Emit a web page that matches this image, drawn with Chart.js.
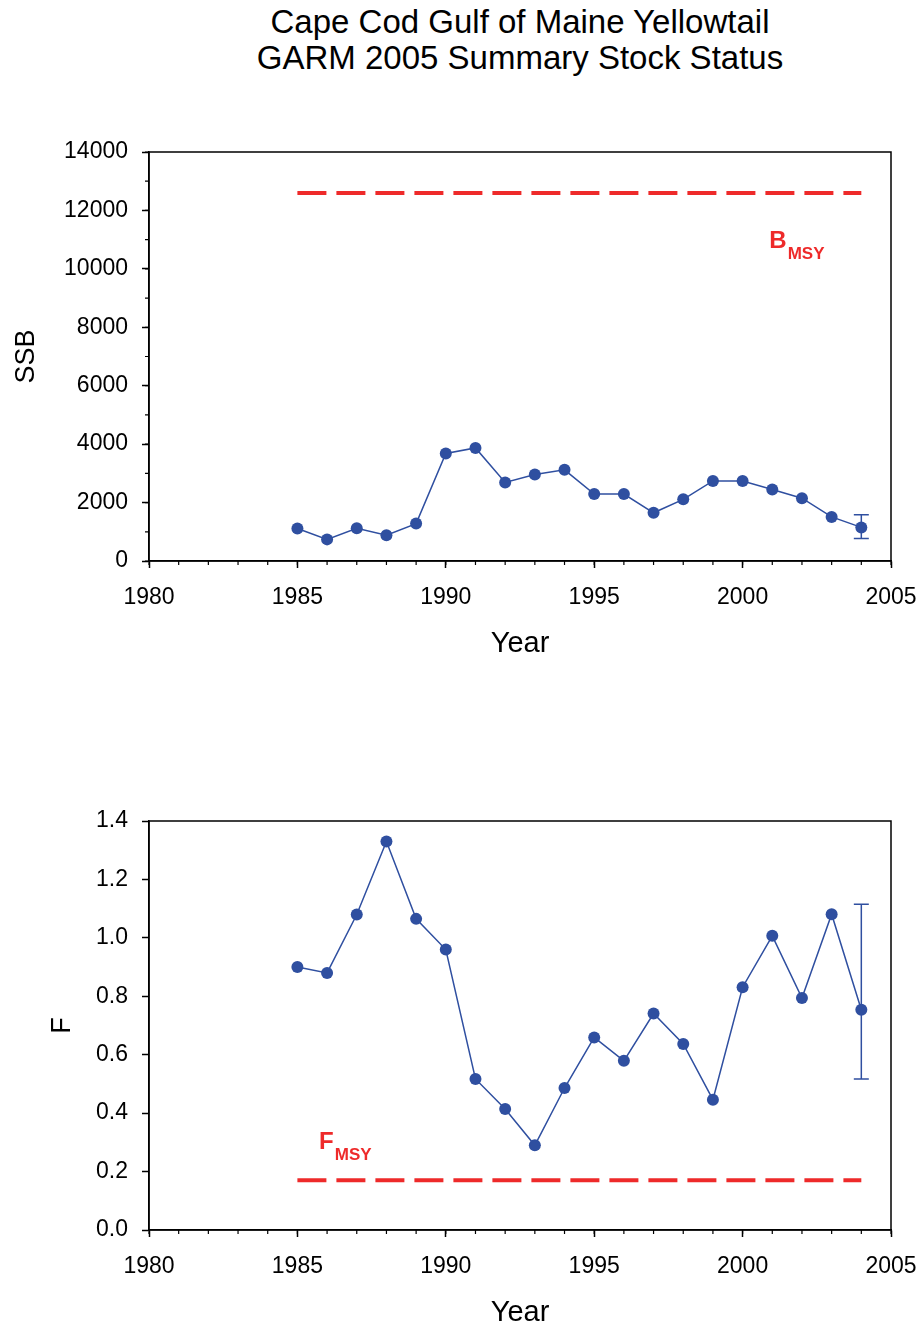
<!DOCTYPE html>
<html>
<head>
<meta charset="utf-8">
<script src="https://cdn.jsdelivr.net/npm/chart.js@4.4.0/dist/chart.umd.min.js"></script>
<style>
body { margin: 0; background: #fff; width: 921px; height: 1328px; position: relative; overflow: hidden; font-family: "Liberation Sans", Arial, sans-serif; }
#title { position: absolute; left: 120px; top: 4px; width: 800px; text-align: center; font-size: 33px; line-height: 36px; color: #000; }
#ssbChart { position: absolute; left: 0; top: 100px; }
#fChart { position: absolute; left: 0; top: 770px; }
</style>
</head>
<body>
<div id="title">Cape Cod Gulf of Maine Yellowtail<br>GARM 2005 Summary Stock Status</div>
<canvas id="ssbChart" width="921" height="580"></canvas>
<canvas id="fChart" width="921" height="558"></canvas>
<script>
// values
const years = [1985, 1986, 1987, 1988, 1989, 1990, 1991, 1992, 1993, 1994, 1995, 1996, 1997, 1998, 1999, 2000, 2001, 2002, 2003, 2004];
const ssb   = [1110, 740, 1120, 880, 1280, 3680, 3870, 2690, 2960, 3120, 2290, 2290, 1650, 2110, 2740, 2740, 2450, 2150, 1510, 1150];
const fMort = [0.90, 0.88, 1.08, 1.33, 1.065, 0.96, 0.517, 0.414, 0.29, 0.486, 0.659, 0.579, 0.741, 0.637, 0.446, 0.831, 1.007, 0.794, 1.081, 0.754];
const bmsy = 12600;
const fmsy = 0.17;
const ssbErr = [2004, 770, 1580];    // year, low, high
const fErr   = [2004, 0.517, 1.115];

const BLUE = '#2F4FA0';
const RED = '#EE2A2A';

Chart.defaults.font.family = '"Liberation Sans", Arial, sans-serif';
Chart.defaults.color = '#000';

// box round the plot + short minor ticks
const framePlugin = {
    id: 'frame',
    afterDraw(chart, args, opts) {
        const { ctx, chartArea: a, scales } = chart;
        ctx.save();
        ctx.strokeStyle = '#000';
        ctx.lineWidth = 1.5;
        ctx.strokeRect(a.left, a.top, a.right - a.left, a.bottom - a.top);
        ctx.lineWidth = 1.2;
        ctx.beginPath();
        if (opts.xMinor) {
            for (let v = scales.x.min; v <= scales.x.max; v += opts.xMinor) {
                const px = scales.x.getPixelForValue(v);
                ctx.moveTo(px, a.bottom); ctx.lineTo(px, a.bottom + 4);
            }
        }
        if (opts.yMinor) {
            for (let v = scales.y.min; v <= scales.y.max; v += opts.yMinor) {
                const py = scales.y.getPixelForValue(v);
                ctx.moveTo(a.left, py); ctx.lineTo(a.left - 4, py);
            }
        }
        ctx.stroke();
        ctx.restore();
    }
};

const errorBarPlugin = {
    id: 'errorBar',
    beforeDatasetsDraw(chart, args, opts) {
        if (!opts.bar) return;
        const { ctx, scales } = chart;
        const [yr, lo, hi] = opts.bar;
        const px = scales.x.getPixelForValue(yr);
        const pLo = scales.y.getPixelForValue(lo);
        const pHi = scales.y.getPixelForValue(hi);
        ctx.save();
        ctx.strokeStyle = BLUE;
        ctx.lineWidth = 1.5;
        ctx.beginPath();
        ctx.moveTo(px, pLo); ctx.lineTo(px, pHi);
        ctx.moveTo(px - 7.5, pLo); ctx.lineTo(px + 7.5, pLo);
        ctx.moveTo(px - 7.5, pHi); ctx.lineTo(px + 7.5, pHi);
        ctx.stroke();
        ctx.restore();
    }
};

const refLabelPlugin = {
    id: 'refLabel',
    afterDatasetsDraw(chart, args, opts) {
        if (!opts.text) return;
        const { ctx, scales } = chart;
        const px = scales.x.getPixelForValue(opts.x);
        const py = scales.y.getPixelForValue(opts.y);
        ctx.save();
        ctx.fillStyle = RED;
        ctx.textBaseline = 'alphabetic';
        ctx.font = 'bold 24px "Liberation Sans", Arial, sans-serif';
        ctx.fillText(opts.text, px, py);
        const w = ctx.measureText(opts.text).width;
        ctx.font = 'bold 17px "Liberation Sans", Arial, sans-serif';
        ctx.fillText(opts.sub, px + w + 1, py + 11);
        ctx.restore();
    }
};

function makeChart(id, cfg) {
    const ctx = document.getElementById(id).getContext('2d');
    return new Chart(ctx, {
        type: 'scatter',
        data: {
            datasets: [
                { data: [{ x: years[0], y: cfg.ref }, { x: years[years.length - 1], y: cfg.ref }], showLine: true, borderColor: RED, borderWidth: 4, borderDash: [29, 10], borderCapStyle: 'butt', pointRadius: 0 },
                { data: years.map((y, i) => ({ x: y, y: cfg.values[i] })), showLine: true, borderColor: BLUE, borderWidth: 1.5, pointRadius: 6, pointBackgroundColor: BLUE, pointBorderColor: BLUE, pointBorderWidth: 0, tension: 0 }
            ]
        },
        options: {
            responsive: false, animation: false, events: [],
            layout: { padding: { left: 0, right: 30, top: cfg.top, bottom: 0 } },
            plugins: {
                legend: { display: false }, tooltip: { enabled: false },
                frame: { xMinor: 1, yMinor: cfg.yMinor },
                errorBar: { bar: cfg.err },
                refLabel: cfg.label
            },
            scales: {
                x: {
                    type: 'linear', min: 1980, max: 2005,
                    ticks: { stepSize: 5, font: { size: 23 }, color: '#000', padding: 16, maxRotation: 0, autoSkip: false, callback: v => String(v) },
                    grid: { drawOnChartArea: false, tickLength: 7, tickWidth: 1.5, tickColor: '#000' },
                    border: { color: '#000', width: 1.5 },
                    title: { display: true, text: 'Year', font: { size: 29, lineHeight: 1 }, color: '#000', padding: { top: 0, bottom: cfg.xTitlePad } },
                    afterFit: s => { s.height = cfg.xHeight; s.paddingRight = 0; s.paddingLeft = 0; }
                },
                y: {
                    min: 0, max: cfg.yMax,
                    ticks: { stepSize: cfg.yStep, font: { size: 23 }, color: '#000', padding: 14, autoSkip: false, callback: cfg.fmt },
                    grid: { drawOnChartArea: false, tickLength: 7, tickWidth: 1.5, tickColor: '#000' },
                    border: { color: '#000', width: 1.5 },
                    title: { display: true, text: cfg.yTitle, font: { size: 27 }, color: '#000', padding: { top: cfg.yTitlePad, bottom: 0 } },
                    afterFit: s => { s.width = 149; s.paddingTop = 0; s.paddingBottom = 0; }
                }
            }
        },
        plugins: [framePlugin, errorBarPlugin, refLabelPlugin]
    });
}

makeChart('ssbChart', {
    values: ssb, ref: bmsy, err: ssbErr, top: 52, xHeight: 119, xTitlePad: 21.5,
    yMax: 14000, yStep: 2000, yMinor: 1000, yTitle: 'SSB', yTitlePad: 10,
    fmt: v => String(v),
    label: { text: 'B', sub: 'MSY', x: 2000.9, y: 10700 }
});

makeChart('fChart', {
    values: fMort, ref: fmsy, err: fErr, top: 51, xHeight: 98, xTitlePad: 0.7,
    yMax: 1.4, yStep: 0.2, yMinor: 0, yTitle: 'F', yTitlePad: 46,
    fmt: v => v.toFixed(1),
    label: { text: 'F', sub: 'MSY', x: 1985.73, y: 0.276 }
});
</script>
</body>
</html>
